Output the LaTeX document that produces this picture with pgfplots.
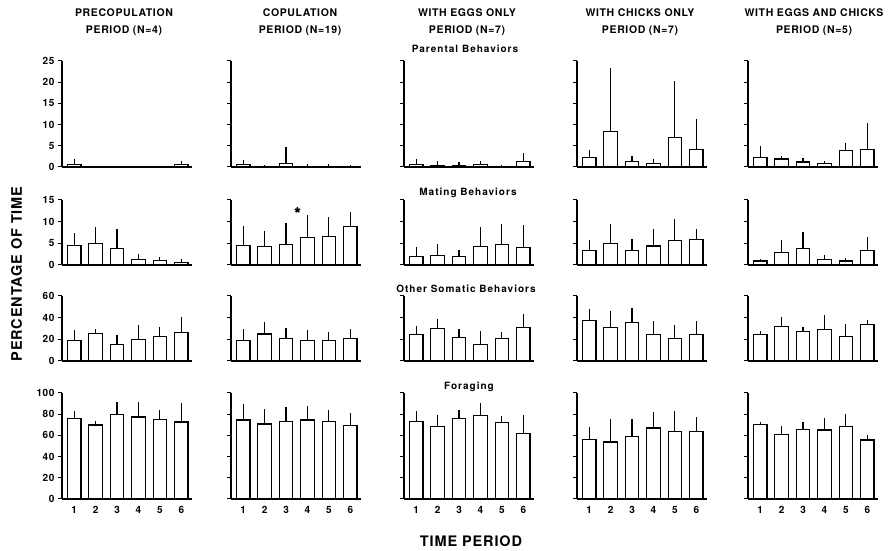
\documentclass[border=0pt]{standalone}
\usepackage{fontspec}
\setmainfont{TeX Gyre Heros}[LetterSpace=6]
\newfontfamily\rowfont{TeX Gyre Heros}[LetterSpace=10]
\usepackage{pgfplots}
\pgfplotsset{compat=1.18}

% common look of every small bar panel
\pgfplotsset{
  panel/.style={
    scale only axis, width=130pt, anchor=south west,
    xmin=0.43, xmax=6.5, ymin=0,
    axis x line=bottom, axis y line=left,
    axis line style={-, line width=1.2pt},
    xtick={1,2,3,4,5,6}, xticklabels={},
    major x tick style={draw=none},
    tick align=outside, major tick length=4pt,
    major y tick style={line width=1pt, black},
    yticklabels={},
    ybar, bar width=13.5pt,
    clip=false,
    /pgf/number format/assume math mode=true,
    every tick label/.append style={font=\fontsize{10}{11}\selectfont\bfseries},
  },
  rowA/.style={height=106pt, ymax=25, ytick={0,5,10,15,20,25}},
  rowB/.style={height=65pt, ymax=15, ytick={0,5,10,15}},
  rowC/.style={height=65pt, ymax=60, ytick={0,20,40,60}},
  rowD/.style={height=106pt, ymax=100, ytick={0,20,40,60,80,100}},
  labY/.style={yticklabels={}, yticklabel={\pgfmathprintnumber{\tick}}},
  labX/.style={xticklabels={1,2,3,4,5,6}},
  meanbar/.style={fill=white, draw=black, line width=1.2pt,
    error bars/.cd, y dir=plus, y explicit, error mark=none,
    error bar style={line width=1.2pt, solid}},
}

% #1 x, #2 y, #3 row style, #4 extra options, #5 data (period, mean, SD), #6 extra plots
\newcommand{\panel}[6]{%
  \begin{axis}[panel, #3, at={(#1pt,#2pt)}, #4]
    \addplot[meanbar] table[row sep=\\, x=t, y=m, y error=sd] {#5};
    #6
  \end{axis}}

\begin{document}
\begin{tikzpicture}
\useasboundingbox (0,0) rectangle (894pt,551pt);

% ---------------- Parental behaviors ----------------
\panel{62}{384}{rowA}{labY}{t m sd\\ 1 0.6 1.3\\ 2 0.1 0\\ 3 0.1 0\\ 4 0.1 0\\ 5 0.1 0\\ 6 0.6 0.9\\}{}
\panel{231}{384}{rowA}{}{t m sd\\ 1 0.6 1.0\\ 2 0.2 0.3\\ 3 0.9 3.8\\ 4 0.2 0.4\\ 5 0.2 0.4\\ 6 0.2 0.2\\}{}
\panel{404}{384}{rowA}{}{t m sd\\ 1 0.55 1.45\\ 2 0.4 1.0\\ 3 0.3 0.95\\ 4 0.6 0.9\\ 5 0.2 0.3\\ 6 1.3 2.1\\}{}
\panel{577}{384}{rowA}{}{t m sd\\ 1 2.3 1.8\\ 2 8.4 15.0\\ 3 1.25 1.25\\ 4 0.9 1.0\\ 5 7.0 13.2\\ 6 4.2 7.05\\}{}
\panel{748}{384}{rowA}{}{t m sd\\ 1 2.3 2.7\\ 2 1.9 0.75\\ 3 1.2 0.9\\ 4 0.9 0.4\\ 5 3.9 1.7\\ 6 4.2 6.1\\}{}

% ---------------- Mating behaviors ----------------
\panel{62}{286}{rowB}{labY}{t m sd\\ 1 4.5 2.8\\ 2 5.0 3.7\\ 3 3.8 4.4\\ 4 1.2 1.3\\ 5 1.1 0.8\\ 6 0.6 0.7\\}{}
\panel{231}{286}{rowB}{}{t m sd\\ 1 4.5 4.5\\ 2 4.2 3.7\\ 3 4.8 5.0\\ 4 6.3 5.2\\ 5 6.5 4.5\\ 6 8.85 3.3\\}{%
  \addplot[only marks, mark=star, mark size=2.8pt, line width=1.6pt, black] coordinates {(3.53,12.7)};}
\panel{404}{286}{rowB}{}{t m sd\\ 1 1.9 2.3\\ 2 2.1 2.65\\ 3 1.9 1.6\\ 4 4.35 4.45\\ 5 4.75 4.8\\ 6 3.96 5.24\\}{}
\panel{577}{286}{rowB}{}{t m sd\\ 1 3.26 2.44\\ 2 5.05 4.35\\ 3 3.26 2.74\\ 4 4.4 3.8\\ 5 5.7 4.8\\ 6 5.8 2.4\\}{}
\panel{748}{286}{rowB}{}{t m sd\\ 1 0.93 0.47\\ 2 2.9 2.8\\ 3 3.8 3.9\\ 4 1.24 1.06\\ 5 0.93 0.67\\ 6 3.4 3.1\\}{}

% ---------------- Other somatic behaviors ----------------
\panel{62}{190}{rowC}{labY}{t m sd\\ 1 18.6 9.9\\ 2 25.4 3.7\\ 3 15.2 9.2\\ 4 19.8 13.0\\ 5 22.6 8.9\\ 6 26.3 14.5\\}{}
\panel{231}{190}{rowC}{}{t m sd\\ 1 18.6 10.5\\ 2 25.0 10.6\\ 3 20.7 9.3\\ 4 18.6 10.2\\ 5 18.6 8.3\\ 6 20.7 8.4\\}{}
\panel{404}{190}{rowC}{}{t m sd\\ 1 24.7 7.5\\ 2 30.0 9.0\\ 3 21.6 7.8\\ 4 15.5 12.3\\ 5 20.7 6.5\\ 6 30.9 12.7\\}{}
\panel{577}{190}{rowC}{}{t m sd\\ 1 37.7 9.9\\ 2 30.9 15.2\\ 3 35.3 13.6\\ 4 24.7 12.4\\ 5 20.4 12.7\\ 6 24.1 12.7\\}{}
\panel{748}{190}{rowC}{}{t m sd\\ 1 24.4 3.7\\ 2 32.2 8.6\\ 3 26.9 4.6\\ 4 29.1 13.0\\ 5 22.3 12.3\\ 6 34.0 3.7\\}{}

% ---------------- Foraging ----------------
\panel{62}{52}{rowD}{labY, labX}{t m sd\\ 1 76.1 6.9\\ 2 69.8 4.1\\ 3 79.9 11.6\\ 4 77.4 14.4\\ 5 74.8 8.8\\ 6 72.6 18.0\\}{}
\panel{231}{52}{rowD}{labX}{t m sd\\ 1 74.5 14.8\\ 2 70.8 14.1\\ 3 73.3 13.5\\ 4 74.5 13.2\\ 5 73.3 11.0\\ 6 69.5 11.6\\}{}
\panel{404}{52}{rowD}{labX}{t m sd\\ 1 73.1 9.7\\ 2 68.1 11.6\\ 3 76.25 7.5\\ 4 78.4 12.2\\ 5 72.2 6.55\\ 6 61.6 17.5\\}{}
\panel{577}{52}{rowD}{labX}{t m sd\\ 1 55.9 12.2\\ 2 53.75 21.85\\ 3 58.75 16.25\\ 4 66.9 15.6\\ 5 63.4 20.0\\ 6 63.4 14.4\\}{}
\panel{748}{52}{rowD}{labX}{t m sd\\ 1 70.0 2.8\\ 2 60.6 7.8\\ 3 65.3 7.5\\ 4 65.0 11.6\\ 5 68.4 11.9\\ 6 55.6 4.4\\}{}

% ---------------- column headings ----------------
\begin{scope}[every node/.style={font=\fontsize{10.5}{12}\selectfont\bfseries, anchor=base, inner sep=0pt}]
  \node at (124pt,534.3pt) {PRECOPULATION};
  \node at (124pt,517.7pt) {PERIOD (N=4)};
  \node at (300pt,534.3pt) {COPULATION};
  \node at (300pt,517.7pt) {PERIOD (N=19)};
  \node at (467pt,534.3pt) {WITH EGGS ONLY};
  \node at (467pt,517.7pt) {PERIOD (N=7)};
  \node at (640pt,534.3pt) {WITH CHICKS ONLY};
  \node at (640pt,517.7pt) {PERIOD (N=7)};
  \node at (814pt,534.3pt) {WITH EGGS AND CHICKS};
  \node at (814pt,517.7pt) {PERIOD (N=5)};
\end{scope}

% ---------------- behaviour headings ----------------
\begin{scope}[every node/.style={font=\rowfont\fontsize{10}{12}\selectfont\bfseries, anchor=base, inner sep=0pt}]
  \node at (465pt,498pt) {Parental Behaviors};
  \node at (468pt,355pt) {Mating Behaviors};
  \node at (466pt,258pt) {Other Somatic Behaviors};
  \node at (469pt,161pt) {Foraging};
\end{scope}

% ---------------- axis titles ----------------
\node[font=\fontsize{14.5}{16}\selectfont\bfseries, anchor=base, inner sep=0pt] at (471pt,4pt) {TIME PERIOD};
\node[font=\fontsize{14.5}{16}\selectfont\bfseries, rotate=90, inner sep=0pt] at (16.5pt,277pt) {PERCENTAGE OF TIME};
\end{tikzpicture}
\end{document}
